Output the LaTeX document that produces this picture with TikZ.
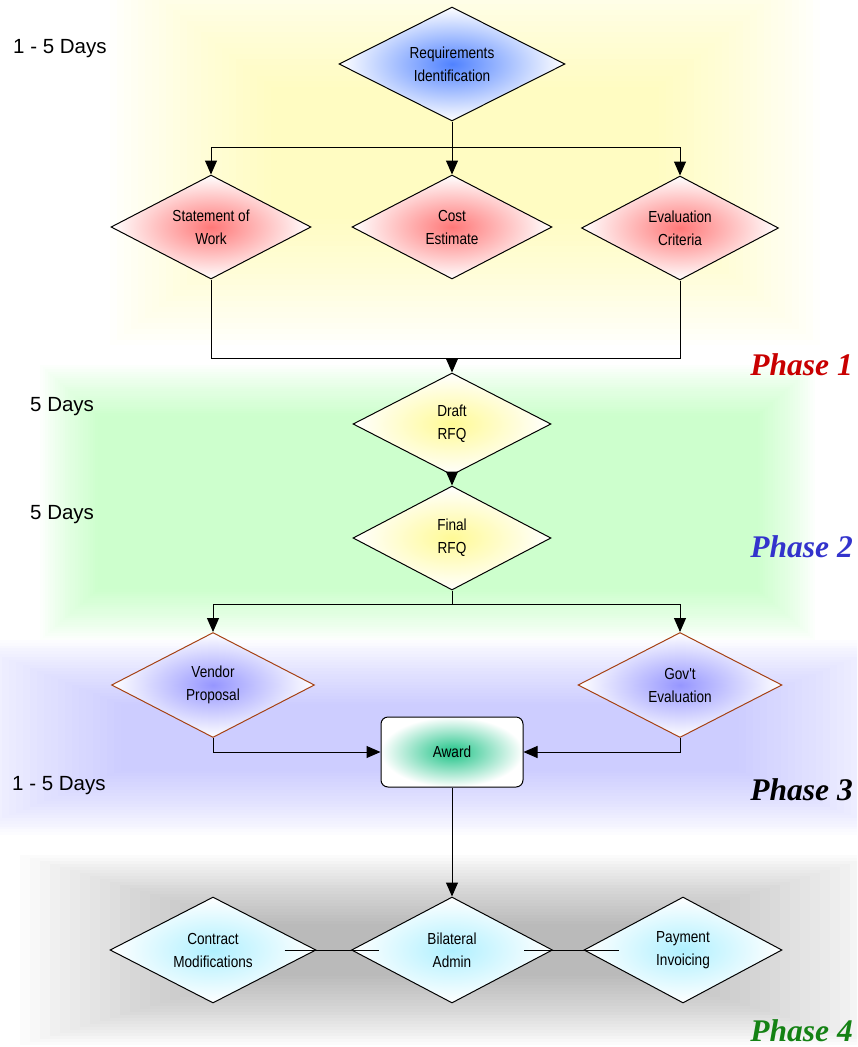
\documentclass[tikz,border=0pt]{standalone}
\usepackage{fontspec}
\usetikzlibrary{shapes.geometric,arrows.meta}
\newfontfamily\boxfont{Liberation Sans}[FakeStretch=0.85]
\newfontfamily\dayfont{Liberation Sans}
\newfontfamily\phasefont{Liberation Serif}

\definecolor{reqblue}{RGB}{80,130,255}
\definecolor{docred}{RGB}{255,120,120}
\definecolor{rfqyellow}{RGB}{255,250,150}
\definecolor{bidblue}{RGB}{150,150,255}
\definecolor{bidedge}{RGB}{165,65,20}
\definecolor{awardgreen}{RGB}{30,195,135}
\definecolor{admincyan}{RGB}{175,240,255}
\definecolor{phaseone}{RGB}{200,0,0}
\definecolor{phasetwo}{RGB}{51,51,204}
\definecolor{phasefour}{RGB}{20,130,20}

% soft edged panel: colour, x1, y1, x2, y2, x inset, y inset per layer
\newcommand{\softpanel}[7]{%
  \foreach \k in {0,...,23}{
    \fill[#1, opacity=0.022] ({#2+\k*#6},{#3+\k*#7})
      rectangle ({#4-\k*#6},{#5-\k*#7});}}

\tikzset{
  gate/.style={diamond, draw, line width=1pt, inner sep=0pt, aspect=2,
    align=center, outer color=white,
    minimum width=200pt, minimum height=104pt,
    font=\boxfont\fontsize{16}{23}\selectfont},
  bidgate/.style={gate, draw=bidedge, inner color=bidblue},
  flow/.style={line width=1pt},
  arrowflow/.style={flow, -{Triangle[length=14pt,width=12pt]}},
  dayslbl/.style={anchor=base west, inner sep=0pt,
    font=\dayfont\fontsize{20.5}{24}\selectfont},
  phaselbl/.style={anchor=base east, inner sep=0pt,
    font=\phasefont\bfseries\itshape\fontsize{31.5}{36}\selectfont}
}

\begin{document}
\begin{tikzpicture}[x=1pt,y=-1pt]
    \path[use as bounding box, clip] (0,0) rectangle (857,1047);

    % phase backgrounds
    \softpanel{yellow!55}{110}{-40}{820}{345}{7}{5.5}
    \softpanel{green!45}{40}{365}{815}{640}{2.5}{2.2}
    \softpanel{blue!45}{-40}{640}{900}{835}{7}{2.8}
    \softpanel{black!62}{20}{855}{880}{1045}{10}{3}

    \coordinate (split1) at (452,147);
    \coordinate (merge1) at (452,358);
    \coordinate (split2) at (452,604);

    % phase 1
    \node[gate, inner color=reqblue, minimum width=226pt,
        minimum height=114pt] (reqid) at (452,64) {Requirements\\Identification};
    \node[gate, inner color=docred] (sow) at (211,227) {Statement of\\Work};
    \node[gate, inner color=docred] (cost) at (452,227) {Cost\\Estimate};
    \node[gate, inner color=docred, minimum width=197pt] (evalc) at (680,228)
        {Evaluation\\Criteria};

    % phase 2
    \node[gate, inner color=rfqyellow, minimum width=198pt,
        minimum height=102pt] (draft) at (452,424) {Draft\\RFQ};
    \node[gate, inner color=rfqyellow, minimum width=198pt] (final) at (452,538)
        {Final\\RFQ};

    % phase 3
    \node[bidgate, minimum width=203pt, minimum height=105pt] (vendor)
        at (213,685) {Vendor\\Proposal};
    \node[bidgate, minimum width=204pt, minimum height=105pt] (govt)
        at (680,685) {Gov't\\Evaluation};
    \node[draw, line width=1pt, rounded corners=7pt, inner color=awardgreen,
        outer color=white, minimum width=142pt, minimum height=70pt,
        font=\boxfont\fontsize{16}{23}\selectfont] (award) at (452,752) {Award};

    % phase 4
    \node[gate, inner color=admincyan, minimum width=206pt,
        minimum height=106pt] (mods) at (213,950) {Contract\\Modifications};
    \node[gate, inner color=admincyan, minimum width=201pt,
        minimum height=106pt] (bilat) at (452,950) {Bilateral\\Admin};
    \node[gate, inner color=admincyan, minimum width=198pt,
        minimum height=106pt] (pay) at (683,950) {Payment\\Invoicing};

    % connectors
    \draw[flow] (reqid.south) -- (split1);
    \draw[arrowflow] (split1) -| (sow.north);
    \draw[arrowflow] (split1) -- (cost.north);
    \draw[arrowflow] (split1) -| (evalc.north);
    \draw[flow] (sow.south) |- (merge1);
    \draw[flow] (evalc.south) |- (merge1);
    \draw[arrowflow] (merge1) -- (draft.north);
    \draw[arrowflow] (draft.south) -- (final.north);
    \draw[flow] (final.south) -- (split2);
    \draw[arrowflow] (split2) -| (vendor.north);
    \draw[arrowflow] (split2) -| (govt.north);
    \draw[arrowflow] (vendor.south) |- (award.west);
    \draw[arrowflow] (govt.south) |- (award.east);
    \draw[arrowflow] (award.south) -- (bilat.north);
    \draw[flow] ([xshift=-32pt]mods.east) -- ([xshift=28pt]bilat.west);
    \draw[flow] ([xshift=-29pt]bilat.east) -- ([xshift=35pt]pay.west);

    % durations
    \node[dayslbl] (days1) at (13,53) {1 - 5 Days};
    \node[dayslbl] (days2) at (30,411) {5 Days};
    \node[dayslbl] (days3) at (30,519) {5 Days};
    \node[dayslbl] (days4) at (12,790) {1 - 5 Days};

    % phase names
    \node[phaselbl, text=phaseone] (phase1) at (853,375) {Phase 1};
    \node[phaselbl, text=phasetwo] (phase2) at (853,557) {Phase 2};
    \node[phaselbl] (phase3) at (853,800) {Phase 3};
    \node[phaselbl, text=phasefour] (phase4) at (853,1041) {Phase 4};
\end{tikzpicture}
\end{document}
